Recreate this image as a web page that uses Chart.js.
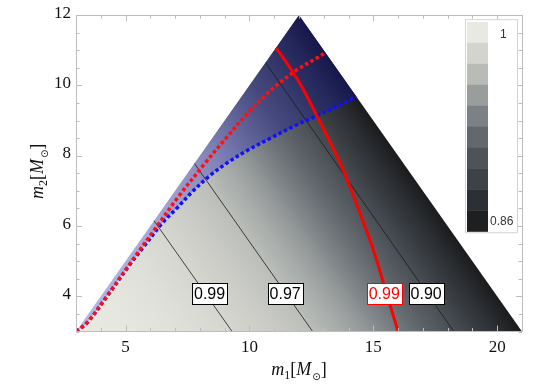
<!DOCTYPE html>
<html><head><meta charset="utf-8">
<script src="https://cdn.jsdelivr.net/npm/chart.js@4.4.1/dist/chart.umd.min.js"></script>
<style>html,body{margin:0;padding:0;background:#fff}</style>
</head><body>
<canvas id="c" width="545" height="385"></canvas>
<script>
// ---------------- data ----------------
// allowed region (m2 <= m1, m1+m2 <= 24, m2 >= 3)
const triangleM1 = [3, 12, 21];
const triangleM2 = [3, 12, 3];
// upper border of the blue-tinted zone (diagonal, then right edge)
const blueZoneM1 = [3, 12, 14.32];
const blueZoneM2 = [3, 12, 9.68];
// blue dotted curve
const blueDottedM1 = [3.0, 3.45, 4.3, 5.22, 5.72, 6.5, 7.06, 7.7, 8.43, 9.11, 9.91, 10.85, 11.79, 12.73, 13.5, 14.32];
const blueDottedM2 = [3.0, 3.25, 4.05, 4.95, 5.4, 6.1, 6.5, 6.98, 7.45, 7.8, 8.15, 8.5, 8.84, 9.14, 9.39, 9.68];
// red dotted curve
const redDottedM1 = [3.0, 3.45, 4.3, 5.2, 6.15, 7.15, 8.21, 9.03, 9.85, 10.73, 11.35, 12.01, 12.72, 13.0];
const redDottedM2 = [3.0, 3.25, 4.05, 4.95, 5.88, 6.85, 7.79, 8.48, 9.15, 9.78, 10.15, 10.49, 10.78, 10.9];
// red solid contour (0.99)
const redSolidM1 = [11.07, 11.45, 11.79, 12.1, 12.4, 12.73, 13.27, 13.72, 14.14, 14.52, 14.88, 15.17, 15.42, 15.72, 16.0];
const redSolidM2 = [11.07, 10.7, 10.34, 9.98, 9.58, 9.12, 8.37, 7.7, 6.97, 6.25, 5.57, 4.95, 4.35, 3.65, 3.0];
// black contour lines
const contourLevels = ['0.99', '0.97', '0.90'];
const contourM1 = [[6.15, 9.3], [7.78, 12.55], [10.65, 18.25]];
const contourM2 = [[6.15, 3.0], [7.78, 3.0], [10.65, 3.0]];
// contour labels
const labelText = ['0.99', '0.97', '0.99', '0.90'];
const labelM1 = [8.39, 11.44, 15.44, 17.13];
const labelM2 = [4.08, 4.08, 4.08, 4.08];
const labelColor = ['#000000', '#000000', '#ff0000', '#000000'];
// ticks
const xMajorTicks = [5, 10, 15, 20];
const yMajorTicks = [4, 6, 8, 10, 12];
// colour legend
const legendTop = '1';
const legendBottom = '0.86';
const legendColors = ['#e8e9e1', '#d3d4ce', '#b8bbb6', '#999d9c', '#7b8184', '#62686d', '#4d5359', '#3d4248', '#2c3034', '#1e1f20'];
// shading along total mass M = m1 + m2
const shadeM = [6, 8, 10, 12.3, 14, 15.5, 16.6, 17.6, 18.5, 19.3, 20.2, 21.2, 22.2, 23, 24];
const grayShade = ['#e8e9e1', '#e6e7df', '#e0e1da', '#d5d6cf', '#cacbc6', '#bbbeb9', '#a9adab', '#969a9a', '#7f8588', '#6d7377', '#5b6166', '#4a5056', '#393d42', '#2c2f33', '#1b1b1c'];
const blueShade = ['#b6b6e0', '#b2b2de', '#aeaedc', '#a6a6d6', '#9a9acc', '#8e8ec2', '#8082b6', '#6f72a8', '#5f6397', '#52568a', '#45487c', '#393d6f', '#2c2f62', '#23265a', '#16174a'];

const pts = (a, b) => a.map((v, i) => ({x: v, y: b[i]}));

function massGradient(chart, colors) {
  const xs = chart.scales && chart.scales.x, ys = chart.scales && chart.scales.y;
  if (!xs || !ys || !chart.chartArea) return colors[0];
  const P = (a, b) => [xs.getPixelForValue(a), ys.getPixelForValue(b)];
  const p0 = P(triangleM1[0], triangleM2[0]);
  const a = P(triangleM1[1], triangleM2[1]);
  const b = P(triangleM1[2], triangleM2[2]);
  const dx = b[0] - a[0], dy = b[1] - a[1];
  const t = ((p0[0] - a[0]) * dx + (p0[1] - a[1]) * dy) / (dx * dx + dy * dy);
  const f = [a[0] + t * dx, a[1] + t * dy];
  const g = chart.ctx.createLinearGradient(p0[0], p0[1], f[0], f[1]);
  const M0 = triangleM1[0] + triangleM2[0], M1 = triangleM1[2] + triangleM2[2];
  shadeM.forEach((m, i) => g.addColorStop(Math.min(1, Math.max(0, (m - M0) / (M1 - M0))), colors[i]));
  return g;
}

const FRAME = '#bdbdbd';
const frameTicks = {
  id: 'frameTicks',
  afterDatasetsDraw(chart) {
    const {ctx, chartArea: a, scales: {x, y}} = chart;
    ctx.save();
    ctx.strokeStyle = FRAME;
    ctx.lineWidth = 1;
    ctx.beginPath();
    for (let v = x.min; v <= x.max; v += 1) {
      const p = Math.round(x.getPixelForValue(v)) + 0.5;
      const L = xMajorTicks.includes(v) ? 6 : 3.5;
      ctx.moveTo(p, a.bottom); ctx.lineTo(p, a.bottom - L);
      ctx.moveTo(p, a.top); ctx.lineTo(p, a.top + L);
    }
    for (let v = y.min; v <= y.max + 1e-9; v += 0.5) {
      const p = Math.round(y.getPixelForValue(v)) + 0.5;
      const L = yMajorTicks.includes(v) ? 6 : 3.5;
      ctx.moveTo(a.left, p); ctx.lineTo(a.left + L, p);
      ctx.moveTo(a.right, p); ctx.lineTo(a.right - L, p);
    }
    ctx.stroke();
    ctx.strokeRect(Math.round(a.left) + 0.5, Math.round(a.top) + 0.5, Math.round(a.right - a.left), Math.round(a.bottom - a.top));
    // contour labels
    ctx.font = '16px "Liberation Sans", Arial, sans-serif';
    ctx.textAlign = 'center';
    ctx.textBaseline = 'middle';
    labelText.forEach((t, i) => {
      const cx = x.getPixelForValue(labelM1[i]), cy = y.getPixelForValue(labelM2[i]);
      const w = Math.round(ctx.measureText(t).width + 4), h = 21;
      const bx = Math.round(cx - w / 2) + 0.5, by = Math.round(cy - h / 2) + 0.5;
      ctx.fillStyle = '#ffffff';
      ctx.fillRect(bx, by, w, h);
      ctx.strokeStyle = labelColor[i];
      ctx.strokeRect(bx, by, w, h);
      ctx.fillStyle = labelColor[i];
      ctx.fillText(t, cx, cy + 1);
    });
    ctx.restore();
  },
  afterDraw(chart) {
    const {ctx, chartArea: a} = chart;
    ctx.save();
    // colour legend box
    const bx = a.right - 57, by = a.top + 4, bw = 52, bh = 213;
    ctx.fillStyle = '#ffffff';
    ctx.fillRect(bx, by, bw, bh);
    ctx.strokeStyle = '#d4d4d4';
    ctx.lineWidth = 1;
    ctx.strokeRect(bx + 0.5, by + 0.5, bw, bh);
    const sh = 20.96;
    legendColors.forEach((c, i) => {
      ctx.fillStyle = c;
      ctx.fillRect(bx + 2, by + 2.7 + i * sh, 21, sh + 0.3);
    });
    ctx.fillStyle = '#333';
    ctx.font = '12px "Liberation Sans", Arial, sans-serif';
    ctx.textAlign = 'left';
    ctx.textBaseline = 'middle';
    ctx.fillText(legendTop, bx + 35, by + 15);
    ctx.fillText(legendBottom, bx + 25, by + 202);
    // axis titles
    const serif = '"Liberation Serif", "DejaVu Serif", serif';
    const parts = (sub) => [
      {t: 'm', f: 'italic 18px ' + serif, dy: 0},
      {t: sub, f: '12px ' + serif, dy: 4},
      {t: '[', f: '18px ' + serif, dy: 0},
      {t: 'M', f: 'italic 18px ' + serif, dy: 0},
      {t: '\u2299', f: '10px "DejaVu Sans", sans-serif', dy: 5},
      {t: ']', f: '18px ' + serif, dy: 0}
    ];
    function drawParts(list, cx, baseY) {
      let total = 0;
      list.forEach(p => { ctx.font = p.f; p.w = ctx.measureText(p.t).width + (p.t === 'M' ? 1 : 0); total += p.w; });
      let xx = cx - total / 2;
      ctx.textAlign = 'left';
      ctx.textBaseline = 'alphabetic';
      ctx.fillStyle = '#111';
      list.forEach(p => { ctx.font = p.f; ctx.fillText(p.t, xx, baseY + p.dy); xx += p.w; });
    }
    drawParts(parts('1'), (a.left + a.right) / 2, 375);
    ctx.save();
    ctx.translate(43, (a.top + a.bottom) / 2 - 2);
    ctx.rotate(-Math.PI / 2);
    drawParts(parts('2'), 0, 0);
    ctx.restore();
    ctx.restore();
  }
};

const lineBase = {pointRadius: 0, pointHoverRadius: 0, showLine: true};

new Chart(document.getElementById('c'), {
  type: 'line',
  data: {
    datasets: [
      Object.assign({}, lineBase, {
        label: 'region', data: pts(triangleM1, triangleM2), order: 10,
        borderWidth: 0, borderColor: 'rgba(0,0,0,0)', fill: 'start',
        backgroundColor: (c) => massGradient(c.chart, grayShade)
      }),
      Object.assign({}, lineBase, {
        label: 'blue zone', data: pts(blueZoneM1, blueZoneM2), order: 9,
        borderWidth: 0, borderColor: 'rgba(0,0,0,0)', fill: 2,
        backgroundColor: (c) => massGradient(c.chart, blueShade)
      }),
      Object.assign({}, lineBase, {
        label: 'blue dotted', data: pts(blueDottedM1, blueDottedM2), order: 3,
        borderColor: '#1010ff', borderWidth: 3.5, borderDash: [3.5, 2.6], tension: 0.35, fill: false
      }),
      Object.assign({}, lineBase, {
        label: 'red dotted', data: pts(redDottedM1, redDottedM2), order: 2,
        borderColor: '#ff1010', borderWidth: 3.5, borderDash: [3.5, 2.6], tension: 0.35, fill: false
      }),
      Object.assign({}, lineBase, {
        label: 'red solid', data: pts(redSolidM1, redSolidM2), order: 1,
        borderColor: '#ff0000', borderWidth: 3, tension: 0.35, fill: false
      }),
      ...contourLevels.map((lv, i) => Object.assign({}, lineBase, {
        label: lv, data: pts(contourM1[i], contourM2[i]), order: 5,
        borderColor: '#1a1a1a', borderWidth: 0.8, fill: false
      }))
    ]
  },
  options: {
    responsive: false,
    animation: false,
    devicePixelRatio: 1,
    layout: {padding: {top: 11, right: 23, left: 0, bottom: 0}},
    plugins: {legend: {display: false}, tooltip: {enabled: false}},
    scales: {
      x: {
        type: 'linear', min: 3, max: 21,
        grid: {display: false, drawTicks: false}, border: {display: false},
        ticks: {
          stepSize: 1, autoSkip: false, maxRotation: 0, padding: 6, color: '#111',
          font: {family: '"Liberation Serif", serif', size: 17},
          callback: (v) => xMajorTicks.includes(v) ? String(v) : ''
        },
        afterFit: (s) => { s.height = 53.5; }
      },
      y: {
        type: 'linear', min: 3, max: 12,
        grid: {display: false, drawTicks: false}, border: {display: false},
        ticks: {
          stepSize: 0.5, autoSkip: false, padding: 5, color: '#111', labelOffset: -2,
          font: {family: '"Liberation Serif", serif', size: 17},
          callback: (v) => yMajorTicks.includes(v) ? String(v) : ''
        },
        afterFit: (s) => { s.width = 76; }
      }
    }
  },
  plugins: [frameTicks]
});
</script>
</body></html>
